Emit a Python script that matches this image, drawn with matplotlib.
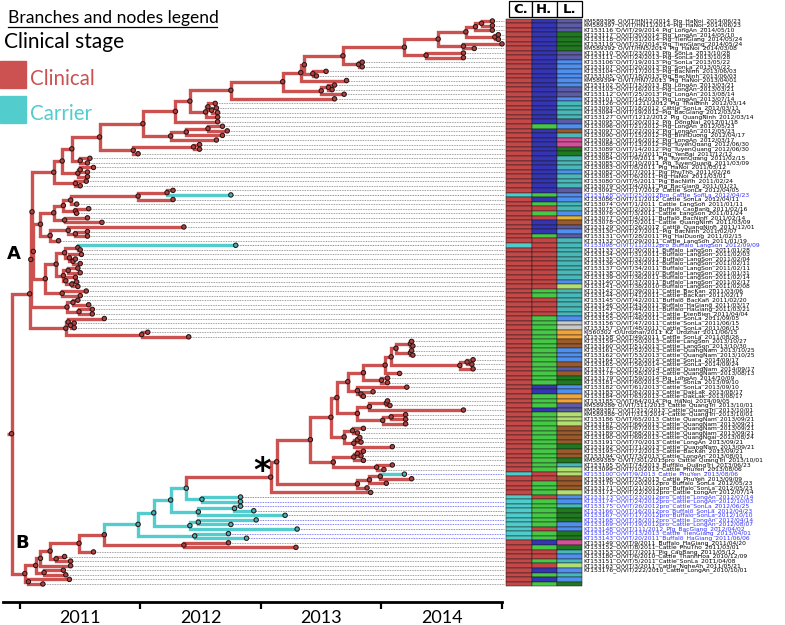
import matplotlib
matplotlib.use("Agg")
import matplotlib.pyplot as plt
from matplotlib.patches import Rectangle

# ---- tree: newick-like, ":<decimal year>" is the node date, "c" marks a carrier node ----
# clade A, top block
A_M = "((:2014.92,:2014.92):2014.83,:2014.92):2014.78"
A_K = "(" + A_M + ",(:2014.97,:2014.97):2014.94):2014.70"
A_I = "(" + A_K + ",(:2015.00,:2014.77):2014.68):2014.47"
A_G = "(" + A_I + ",(:2014.68,:2014.68):2014.37):2014.19"
A_T1 = "(" + A_G + ",(:2013.84,:2013.84):2013.81):2013.68"
A_E = "(" + A_T1 + ",(:2013.54,:2013.46):2013.43):2013.36"
A_C = "(" + A_E + ",:2013.71):2013.33"
A_B = "(" + A_C + ",((:2013.61,:2013.59):2013.56,:2013.69):2013.50):2013.18"
A_A = "(" + A_B + ",:2013.61):2012.75"
A_190 = "(" + A_A + ",((:2012.62,(:2012.63,:2012.64):2012.59):2012.56,:2012.64):2012.54):2012.41"
A_175 = "(" + A_190 + ",:2012.64):2012.29"
A_143 = "(" + A_175 + ",(((:2012.68,:2012.72):2012.56,:2012.68):2012.38,:2012.63):2012.25):2012.02"
A_99 = "(" + A_143 + ",((:2012.49,:2012.49):2012.44,:2011.98):2011.94):2011.66"
A_71 = "(" + A_99 + ",(:2011.58,:2011.56):2011.50):2011.43"
A_62 = "(" + A_71 + ",((:2011.61,:2011.56):2011.50,:2011.56):2011.48):2011.35"
A_53 = "(" + A_62 + ",(:2011.55,:2011.50):2011.46):2011.28"
# clade A, middle block
M_138 = "((:2012.27,c:2012.75):2012.22,:2012.27):2011.98"
M_63 = "((" + M_138 + ",:2011.47):2011.42,(:2011.57,:2011.47):2011.46):2011.36"
M2 = "(" + M_63 + ",(:2011.56,:2011.68):2011.37):2011.28"
M3 = "((:2012.36,(:2011.56,:2011.56):2011.46):2011.40,:2011.32):2011.25"
M1 = "(" + M2 + "," + M3 + "):2011.17"
V_65 = "((c:2012.79,:2011.50):2011.48,(:2011.51,(:2011.46,:2011.50):2011.44):2011.41):2011.37"
V_63 = "((:2011.48,:2011.50):2011.40,(:2011.46,(:2011.47,:2011.48):2011.43):2011.38):2011.36"
V = "((" + V_65 + "," + V_63 + "):2011.30,(:2011.55,:2011.50):2011.35):2011.21"
W = "((:2011.48,:2011.57):2011.44,(:2011.60,:2011.60):2011.49):2011.39"
LAST_A = "((:2011.70,(:2011.45,:2011.45):2011.42):2011.40,(:2012.06,:2012.40):2012.01):2011.38"
A_31 = "((" + A_53 + ",(" + M1 + "," + V + "):2011.11):2011.10," + W + "):2011.09"
CLADE_A = "(" + A_31 + "," + LAST_A + "):2011.08"
# clade B, starred lineage
B_396 = "((:2014.25,:2014.26):2014.24,(:2014.25,:2014.26):2014.24):2014.12"
B_460 = "((:2014.76,:2014.75):2014.71,:2014.76):2014.65"
B_385 = "((" + B_396 + "," + B_460 + "):2014.08,:2014.15):2014.03"
Q2 = "(" + B_385 + ",(:2014.05,:2014.05):2014.00):2013.85"
Q1 = "(" + Q2 + ",(:2014.21,(:2013.93,:2013.85):2013.83):2013.80):2013.72"
Q3 = "(((:2014.05,:2014.07):2014.04,:2014.68):2013.90,((:2014.20,:2014.20):2014.08,:2014.20):2014.01):2013.80"
S5 = "((:2013.85,:2013.80):2013.76,((:2013.82,:2013.83):2013.80,:2014.09):2013.77):2013.69"
S6 = "(((:2013.85,:2013.83):2013.80,:2013.85):2013.77,(:2014.09,:2014.02):2013.96):2013.60"
S7 = "(((c:2014.19,:2014.25):2013.99,:2014.04):2013.90,:2013.88):2013.80"
S2 = "(((" + Q1 + "," + Q3 + "):2013.63," + S5 + "):2013.58," + S6 + "):2013.41"
STAR = "((" + S2 + "," + S7 + "):2013.13,:2013.91):2013.08"
# clade B, carrier block and basal tips
C_186 = "(" + STAR + ",(c:2012.83,c:2012.83)c:2012.51)c:2012.38"
C_170 = "(" + C_186 + ",((c:2012.83,c:2012.94)c:2012.78,c:2013.20)c:2012.48)c:2012.25"
C_153 = "(" + C_170 + ",((c:2012.96,c:2012.75)c:2012.48,c:2013.30)c:2012.41)c:2012.11"
C_138 = "(" + C_153 + ",(c:2012.73,c:2012.88)c:2012.45)c:2011.98"
B_79 = "((" + C_138 + ",(:2012.73,:2013.29):2012.36):2011.70,:2011.61):2011.49"
B_40 = "((" + B_79 + ",(:2011.37,:2011.42):2011.30):2011.25,:2011.42):2011.17"
CLADE_B = "((" + B_40 + ",(:2011.36,:2011.38):2011.20):2011.13,(:2011.41,:2011.19):2011.07):2011.04"
TREE = "(" + CLADE_A + "," + CLADE_B + "):2010.93"
ROOT_STUB = 2010.89
YEARS = [2011, 2012, 2013, 2014, 2015]

LABELS = [
    "KM589398_O/VIT/HN12/2014_Pig_HaNoi_2014/06/23", "KM589397_O/VIT/HN11/2014_Pig_HaNoi_2014/06/23",
    "KT153116_O/VIT/29/2014_Pig_LongAn_2014/05/10", "KT153117_O/VIT/30/2014_Pig_LongAn_2014/05/10",
    "KT153118_O/VIT/31/2014_Pig_TienGiang_2014/05/24", "KT153119_O/VIT/32/2014_Pig_TienGiang_2014/05/24",
    "KM589392_O/VIT/HN5/2014_Pig_HaNoi_2014/03/08", "KT153110_O/VIT/23/2013_Pig_SonLa_2013/10/28",
    "KT153111_O/VIT/24/2013_Pig_SonLa_2013/10/28", "KT153106_O/VIT/19/2013_Pig_SonLa_2013/05/22",
    "KT153107_O/VIT/20/2013_Pig_SonLa_2013/05/22", "KT153104_O/VIT/17/2013_Pig_BacNinh_2013/06/03",
    "KT153105_O/VIT/18/2013_Pig_BacNinh_2013/06/03", "KM589394_O/VIT/HN7/2013_Pig_HaNoi_2013/04/01",
    "KT153102_O/VIT/15/2013_Pig_LongAn_2013/03/21", "KT153103_O/VIT/16/2013_Pig_LongAn_2013/03/21",
    "KT153112_O/VIT/25/2013_Pig_LongAn_2013/08/14", "KT153101_O/VIT/14/2013_Pig_LongAn_2013/07/14",
    "KT153126_O/VIT/1211/2012_Pig_ThaiBinh_2012/03/14", "KT153093_O/VIT/18/2012_Cattle_SonLa_2012/03/11",
    "KT153094_O/VIT/19/2012_Pig_BacGiang_2012/03/24", "KT153127_O/VIT/1212/2012_Pig_QuangNinh_2012/03/14",
    "KT153095_O/VIT/20/2012_Pig_DongNai_2012/01/18", "KT153096_O/VIT/21/2012_Pig_LongAn_2012/05/23",
    "KT153097_O/VIT/22/2012_Pig_LongAn_2012/05/23", "KT153090_O/VIT/15/2012_Pig_BinhDuong_2012/04/17",
    "KT153091_O/VIT/16/2012_Pig_LongAn_2012/03/17", "KT153088_O/VIT/13/2012_Pig_TuyenQuang_2012/06/30",
    "KT153089_O/VIT/14/2012_Pig_TuyenQuang_2012/06/30", "KT153087_O/VIT/12/2011_Pig_YenBai_2011/12/12",
    "KT153084_O/VIT/9/2011_Pig_TuyenQuang_2011/02/15", "KT153085_O/VIT/10/2011_Pig_TuyenQuang_2011/03/09",
    "KT153083_O/VIT/8/2011_Pig_HaNoi_2011/03/12", "KT153082_O/VIT/7/2011_Pig_PhuTho_2011/02/26",
    "KT153081_O/VIT/6/2011_Pig_HaNoi_2011/03/01", "KT153080_O/VIT/5/2011_Pig_BacNinh_2011/02/24",
    "KT153079_O/VIT/4/2011_Pig_BacGiang_2011/01/21", "KT153092_O/VIT/17/2012_Cattle_SonLa_2012/04/05",
    "KT153128_O/VIT/25/2012pro_Cattle_SonLa_2012/04/23", "KT153086_O/VIT/11/2012_Cattle_SonLa_2012/04/11",
    "KT153074_O/VIT/1/2011_Cattle_LangSon_2011/01/11", "KT153075_O/VIT/2/2011_Buffalo_CaoBang_2011/02/16",
    "KT153076_O/VIT/3/2011_Cattle_LangSon_2011/01/24", "KT153077_O/VIT/4/2011_Buffalo_BacNinh_2011/02/14",
    "KT153078_O/VIT/5/2011_Cattle_QuangNinh_2011/03/09", "KT153129_O/VIT/26/2012_Cattle_QuangNinh_2011/12/01",
    "KT153130_O/VIT/27/2011_Pig_BacNinh_2011/02/07", "KT153131_O/VIT/28/2011_Pig_HaiDuong_2011/02/15",
    "KT153132_O/VIT/29/2011_Cattle_LangSon_2011/01/19", "KT153098_O/VIT/11/2012pro_Buffalo_LangSon_2012/09/09",
    "KT153133_O/VIT/30/2011_Buffalo_LangSon_2011/01/28", "KT153134_O/VIT/31/2011_Buffalo_LangSon_2011/02/03",
    "KT153135_O/VIT/32/2011_Buffalo_LangSon_2011/02/04", "KT153136_O/VIT/33/2011_Buffalo_LangSon_2011/02/11",
    "KT153137_O/VIT/34/2011_Buffalo_LangSon_2011/02/11", "KT153138_O/VIT/35/2010_Buffalo_LangSon_2011/01/31",
    "KT153139_O/VIT/36/2011_Buffalo_LangSon_2011/02/14", "KT153140_O/VIT/37/2011_Buffalo_LangSon_2011/02/17",
    "KT153141_O/VIT/38/2010_Buffalo_LangSon_2011/02/08", "KT153142_O/VIT/39/2011_Cattle_BacKan_2011/03/06",
    "KT153144_O/VIT/41/2011_Cattle_BacKan_2011/02/17", "KT153145_O/VIT/42/2011_Buffalo_BacKan_2011/02/20",
    "KT153146_O/VIT/43/2011_Buffalo_HaGiang_2011/03/17", "KT153147_O/VIT/44/2011_Buffalo_HaGiang_2011/03/21",
    "KT153154_O/VIT/45/2011_Cattle_DienBien_2011/04/04", "KT153155_O/VIT/46/2011_Cattle_SonLa_2011/09/05",
    "KT153156_O/VIT/47/2011_Cattle_SonLa_2011/06/15", "KT153157_O/VIT/48/2011_Cattle_SonLa_2011/06/15",
    "KJ560302_O/Urdzhar/2011_KZ_Urdzhar_2011/06/15", "KT153158_O/VIT/49/2011_Cattle_SonLa_2011/08/26",
    "KT153159_O/VIT/50/2013_Cattle_LangSon_2013/10/27", "KT153160_O/VIT/51/2013_Cattle_LangSon_2013/10/30",
    "KT153161_O/VIT/52/2013_Cattle_QuangNam_2013/10/25", "KT153162_O/VIT/53/2013_Cattle_QuangNam_2013/10/25",
    "KT153164_O/VIT/55/2014_Cattle_SonLa_2014/09/17", "KT153165_O/VIT/56/2014_Cattle_SonLa_2014/09/24",
    "KT153177_O/VIT/57/2014_Cattle_QuangNam_2014/09/17", "KT153178_O/VIT/58/2013_Cattle_QuangNam_2013/08/13",
    "KT153179_O/VIT/59/2014_Pig_LongAn_2014/10/09", "KT153181_O/VIT/60/2013_Cattle_SonLa_2013/09/10",
    "KT153182_O/VIT/61/2013_Cattle_SonLa_2013/09/10", "KT153183_O/VIT/62/2013_Cattle_DakLak_2013/08/17",
    "KT153184_O/VIT/63/2013_Cattle_DakLak_2013/08/17", "KT153185_O/VIT/64/2014_Pig_HaNoi_2014/09/05",
    "KM589386_O/VIT/311/2013_Cattle_QuangTri_2013/10/01", "KM589387_O/VIT/312/2013_Cattle_QuangTri_2013/10/01",
    "KM589388_O/VIT/313/2014_Cattle_QuangTri_2013/10/01", "KT153186_O/VIT/65/2013_Cattle_QuangNam_2013/09/21",
    "KT153187_O/VIT/66/2013_Cattle_QuangNam_2013/09/21", "KT153188_O/VIT/67/2013_Cattle_QuangNam_2013/09/21",
    "KT153189_O/VIT/68/2013_Cattle_QuangNam_2013/09/21", "KT153190_O/VIT/69/2013_Cattle_QuangNgai_2013/08/24",
    "KT153191_O/VIT/70/2013_Cattle_LongAn_2013/09/21", "KT153192_O/VIT/71/2013_Cattle_QuangNam_2013/09/21",
    "KT153193_O/VIT/72/2013_Cattle_BacKan_2013/09/21", "KT153194_O/VIT/73/2013_Cattle_LongAn_2013/08/01",
    "KM589385_O/VIT/301/2013pro_Cattle_QuangTri_2013/10/01", "KT153195_O/VIT/74/2013_Buffalo_QuangTri_2013/06/23",
    "KT153099_O/VIT/10/2013_Cattle_PhuYen_2013/08/06", "KT153100_O/VIT/9/2013_Cattle_PhuYen_2013/08/06",
    "KT153196_O/VIT/75/2013_Cattle_PhuYen_2013/09/09", "KT153170_O/VIT/20/2012pro_Buffalo_SonLa_2012/05/23",
    "KT153171_O/VIT/21/2012pro_Buffalo_SonLa_2012/05/23", "KT153172_O/VIT/22/2012pro_Cattle_LongAn_2012/07/14",
    "KT153173_O/VIT/23/2012pro_Cattle_LongAn_2012/07/14", "KT153174_O/VIT/24/2012pro_Cattle_LongAn_2012/10/03",
    "KT153175_O/VIT/26/2012pro_Cattle_SonLa_2012/06/25", "KT153166_O/VIT/16/2012pro_Buffalo_SonLa_2012/04/23",
    "KT153167_O/VIT/17/2012pro_Buffalo_SonLa_2012/10/10", "KT153168_O/VIT/18/2012pro_Cattle_LongAn_2012/04/14",
    "KT153169_O/VIT/19/2012pro_Cattle_LongAn_2012/08/07", "KT153148_O/VIT/111/2012_Pig_BacGiang_2012/04/02",
    "KT153150_O/VIT/13/2013_Cattle_TienGiang_2013/04/01", "KT153143_O/VIT/20/2011_Buffalo_HaGiang_2011/06/06",
    "KT153149_O/VIT/9/2011_Buffalo_HaGiang_2011/04/20", "KT153152_O/VIT/8/2011_Cattle_PhuTho_2011/03/01",
    "KT153153_O/VIT/7/2011_Pig_CaoBang_2011/05/12", "KT153180_O/VIT/6/2010_Cattle_ThanhHoa_2010/12/09",
    "KT153151_O/VIT/5/2011_Cattle_SonLa_2011/04/08", "KT153163_O/VIT/3/2011_Cattle_NgheAn_2011/05/21",
    "KT153176_O/VIT/222/2010_Cattle_LongAn_2010/10/01",
]

# heat-map columns, one letter per tip (top to bottom)
C_CODES = ("R" * 30 + "RRRRRRRRCR" + "RRRRRRRRRC" + "R" * 40 + "RRRRRRRRRC"
           + "RRRRCCCCCC" + "CCCCRRRRRR" + "RRRR")
H_CODES = ("BBBBBBBBBB" "BBBBBBBBBB" "BBBGBBBBBB" "BBBBBBBBGB" "GRGRBBBGRR"
           "RRRRRRRRRG" "GRRRRGGGGG" "GGGGGGGGGG" "BBGGGBGGGG" "GGGGGGGGGR"
           "RGGGRGGGGG" "GRGGBGRRGR" "BGBG")
L_CODES = ("sssggggssb" "bbbbbssbtt" "ttsbntppgg" "tttbtttsbb" "ttbknsbstt"
           "tttttttblt" "tttttbyyoo" "nnbbbnsngg" "bboossllln" "nnngnngtll"
           "nnnlbbtggg" "bbggpgtbtl" "btbg")
C_COLORS = {"R": "#c54848", "C": "#4ecccc"}
H_COLORS = {"B": "#3434b4", "G": "#45c845", "R": "#c54545"}
L_COLORS = {"s": "#5c5ca6", "g": "#1f7a1f", "b": "#4f8ff0", "t": "#48b8b8", "n": "#9b5a2b",
            "p": "#d64f9b", "o": "#f2a33a", "y": "#c8c8c8", "l": "#b3df72", "k": "#e2b43a"}

RED = "#cc5252"
CYAN = "#52cccc"


def parse(s):
    pos = 0

    def node():
        nonlocal pos
        kids = []
        if s[pos] == "(":
            pos += 1
            kids.append(node())
            while s[pos] == ",":
                pos += 1
                kids.append(node())
            pos += 1
        carrier = s[pos] == "c"
        if carrier:
            pos += 1
        pos += 1
        j = pos
        while pos < len(s) and (s[pos].isdigit() or s[pos] == "."):
            pos += 1
        return {"t": float(s[j:pos]), "c": carrier, "kids": kids}

    return node()


root = parse(TREE)
leaves = []


def layout(n):
    if not n["kids"]:
        n["y"] = len(leaves)
        leaves.append(n)
    else:
        for k in n["kids"]:
            layout(k)
        n["y"] = (n["kids"][0]["y"] + n["kids"][-1]["y"]) / 2


layout(root)

W_PX, H_PX = 785, 625
ROW0, ROW_H = 21, 4.577
AX_BOTTOM = 602


def prow(py):
    return (py - ROW0) / ROW_H


fig = plt.figure(figsize=(W_PX / 100, H_PX / 100), dpi=100)
ax = fig.add_axes([3 / W_PX, (H_PX - AX_BOTTOM) / H_PX, 499 / W_PX, AX_BOTTOM / H_PX])
ax.set_xlim(2010.859, 2015.0)
ax.set_ylim(prow(AX_BOTTOM), prow(0))

# dotted guide lines from every tip to the heat map
for n in leaves:
    ax.plot([n["t"], 2015.02], [n["y"], n["y"]], ls=(0, (1, 1)), lw=0.6,
            color="#5a5af0" if n["c"] else "#808080", zorder=1, clip_on=False)

nodes = []


def draw(n, parent):
    col = CYAN if n["c"] else RED
    px = parent["t"] if parent else ROOT_STUB
    py = parent["y"] if parent else n["y"]
    ax.plot([px, px, n["t"]], [py, n["y"], n["y"]], color=col, lw=2.4,
            solid_joinstyle="miter", solid_capstyle="butt", zorder=2)
    nodes.append(n)
    for k in n["kids"]:
        draw(k, n)


draw(root, None)
ax.scatter([n["t"] for n in nodes], [n["y"] for n in nodes], s=10,
           c=[("#3fb5b5" if n["c"] else "#b04040") for n in nodes],
           edgecolors="#2a1515", linewidths=0.75, zorder=3, clip_on=False)

# time axis
for s in ["top", "left", "right"]:
    ax.spines[s].set_visible(False)
ax.spines["bottom"].set_linewidth(2)
ax.set_yticks([])
ax.set_xticks(YEARS)
ax.set_xticklabels([])
ax.tick_params(axis="x", which="major", length=5, width=1.6, direction="out")
ax.set_xticks([y + 0.5 for y in YEARS[:-1]], minor=True)
ax.set_xticklabels([str(y) for y in YEARS[:-1]], minor=True, fontsize=13, family="Lato")
ax.tick_params(axis="x", which="minor", length=0, pad=6)

# heat map columns and tip labels
ax2 = fig.add_axes([506 / W_PX, (H_PX - AX_BOTTOM) / H_PX, 76 / W_PX, AX_BOTTOM / H_PX])
ax2.set_xlim(506, 582)
ax2.set_ylim(prow(AX_BOTTOM), prow(0))
ax2.axis("off")
cols = [(506, 531.7, C_CODES, C_COLORS), (531.7, 556.7, H_CODES, H_COLORS), (556.7, 582, L_CODES, L_COLORS)]
for x0, x1, codes, pal in cols:
    for i, code in enumerate(codes[:len(leaves)]):
        ax2.add_patch(Rectangle((x0, i - 0.5), x1 - x0, 1, facecolor=pal[code],
                                edgecolor="#1a1a1a", lw=0.35, clip_on=False))
for (x0, x1), head in zip([(509, 531.7), (531.7, 556.7), (556.7, 581.5)], ["C.", "H.", "L."]):
    ax2.add_patch(Rectangle((x0, prow(17.3)), x1 - x0, prow(0.7) - prow(17.3), facecolor="white",
                            edgecolor="black", lw=0.9, clip_on=False))
    ax2.text((x0 + x1) / 2, prow(9.5), head, ha="center", va="center", fontsize=9.5,
             fontweight="bold", clip_on=False)
for n, lab in zip(leaves, LABELS):
    ax2.text(583, n["y"], lab, fontsize=4.3, family="DejaVu Sans", va="center", ha="left",
             color="#3030ff" if n["c"] else "black", clip_on=False)


def fxy(x, y):
    return x / W_PX, 1 - y / H_PX


# legend block
fig.text(*fxy(8, 23), "Branches and nodes legend", fontsize=12.6, family="Lato", va="baseline")
fig.add_artist(plt.Line2D([8 / W_PX, 217 / W_PX], [1 - 27 / H_PX] * 2, color="black", lw=0.9))
fig.text(*fxy(4, 48), "Clinical stage", fontsize=15, family="Lato", va="baseline")
fig.add_artist(Rectangle(fxy(0, 88), 26 / W_PX, 27 / H_PX, color=RED))
fig.text(*fxy(30, 85), "Clinical", fontsize=14.8, family="Lato", color=RED, va="baseline")
fig.add_artist(Rectangle(fxy(0, 123), 26 / W_PX, 27 / H_PX, color=CYAN))
fig.text(*fxy(30, 120), "Carrier", fontsize=14.8, family="Lato", color=CYAN, va="baseline")

fig.text(*fxy(14, 254), "A", fontsize=13, fontweight="bold", ha="center", va="center")
fig.text(*fxy(22, 543), "B", fontsize=13, fontweight="bold", ha="center", va="center")
fig.text(*fxy(262, 472), "*", fontsize=24, fontweight="bold", ha="center", va="center")

fig.savefig("out.png", dpi=100)
